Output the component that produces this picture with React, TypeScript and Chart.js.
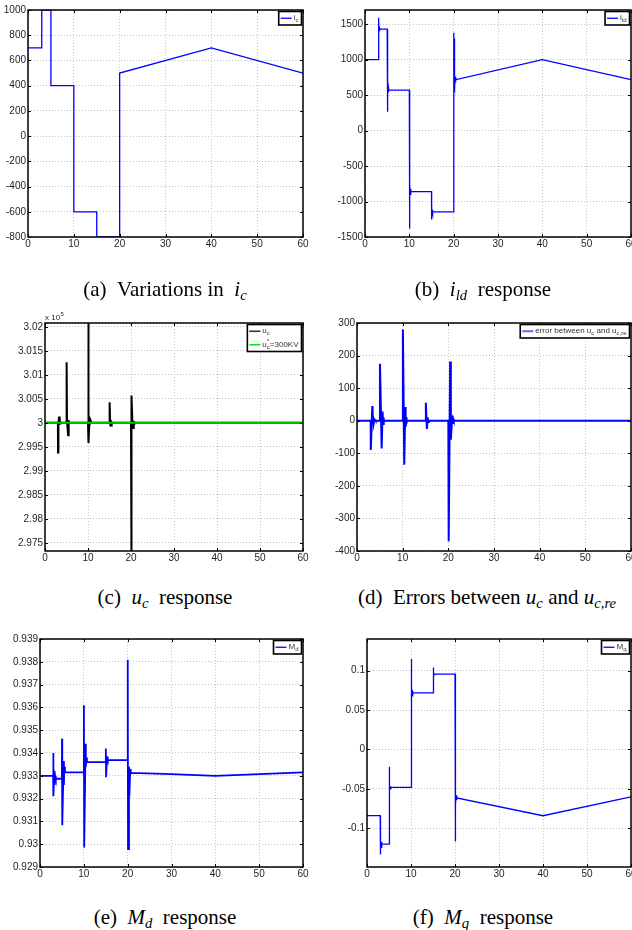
import React, { useEffect, useRef } from "react";
import { Chart, registerables } from "chart.js";

Chart.register(...registerables);

// ---------------- data ----------------
const X_TICKS = [0, 10, 20, 30, 40, 50, 60];

// (a) i_c
const IC_T = [0, 3, 3, 5, 5, 10, 10, 15, 15, 20, 20, 40, 60];
const IC_V = [700, 700, 1000, 1000, 400, 400, -600, -600, -800, -800, 500, 700, 500];
const A_Y_TICKS = [-800, -600, -400, -200, 0, 200, 400, 600, 800, 1000];

// (b) i_ld
const ILD_T = [
  0, 3, 3.02, 3.08, 3.15, 3.22, 3.3, 3.4,
  5, 5.02, 5.1, 5.18, 5.26, 5.34, 5.45,
  10, 10.03, 10.12, 10.2, 10.28, 10.36, 10.45,
  15, 15.03, 15.12, 15.2, 15.3, 15.4,
  20, 20.03, 20.1, 20.16, 20.24, 20.32, 20.4, 20.5, 20.6,
  40, 60,
];
const ILD_V = [
  1000, 1000, 1590, 1400, 1480, 1410, 1445, 1430,
  1430, 265, 630, 540, 610, 560, 575,
  570, -1380, -760, -900, -820, -875, -860,
  -860, -1255, -1120, -1160, -1135, -1145,
  -1145, 1380, 600, 1300, 580, 760, 680, 740, 720,
  1000, 718,
];
const B_Y_TICKS = [-1500, -1000, -500, 0, 500, 1000, 1500];

// (c) u_c (x 10^5)
const UC_T = [
  0, 3, 3.03, 3.12, 3.3, 3.38, 3.46, 3.55, 3.7,
  5, 5.03, 5.12, 5.38, 5.46, 5.55, 5.7,
  10, 10.03, 10.2, 10.35, 10.45, 10.55, 10.8,
  15, 15.03, 15.15, 15.25, 15.35, 15.5,
  20, 20.03, 20.2, 20.35, 20.55, 20.65, 20.75, 21, 60,
];
const UC_V = [
  3, 3, 2.9938, 3.0, 3.0013, 2.9996, 3.0005, 2.9999, 3.0,
  3, 3.0126, 3.0003, 2.9974, 3.0006, 2.9998, 3.0,
  3, 3.024, 2.9958, 3.0009, 2.9996, 3.0006, 3.0,
  3, 3.0043, 3.0, 2.9992, 3.0003, 3.0,
  3, 2.97, 3.0057, 2.9995, 2.9989, 3.0004, 2.9997, 3.0, 3.0,
];
const UCREF_T = [0, 60];
const UCREF_V = [3, 3];
const C_Y_TICKS = [2.975, 2.98, 2.985, 2.99, 2.995, 3, 3.005, 3.01, 3.015, 3.02];

// (d) error between u_c and u_c,re
const ERR_T = [
  0, 3, 3.02, 3.35, 3.42, 3.55, 3.7, 3.85, 4.0, 4.1,
  5, 5.03, 5.4, 5.6, 5.7, 5.8, 5.9, 6.0,
  10, 10.05, 10.35, 10.57, 10.65, 10.75, 10.85, 11.0,
  15, 15.08, 15.3, 15.5, 15.6, 15.75,
  20, 20.08, 20.4, 20.55, 20.85, 20.95, 21.05, 21.2, 60,
];
const ERR_V = [
  0, 0, -90, 45, -12, 8, -6, 4, 2, 0,
  0, 175, -85, 28, -10, 10, -4, 0,
  0, 280, -135, 42, -18, 10, -6, 0,
  0, 55, -25, 10, -4, 0,
  0, -370, 182, -58, 15, -10, 6, 0, 0,
];
const D_Y_TICKS = [-400, -300, -200, -100, 0, 100, 200, 300];

// (e) M_d
const MD_T = [
  0, 3, 3.02, 3.08, 3.3, 3.36, 3.45, 3.6,
  5, 5.02, 5.08, 5.4, 5.46, 5.55, 5.7,
  10, 10.02, 10.08, 10.4, 10.46, 10.55, 10.7,
  15, 15.02, 15.08, 15.3, 15.4, 15.5,
  20, 20.02, 20.08, 20.3, 20.38, 20.6, 20.7, 20.85,
  30, 40, 50, 60,
];
const MD_V = [
  0.933, 0.933, 0.934, 0.9321, 0.9332, 0.9326, 0.933, 0.93287,
  0.93287, 0.93462, 0.93083, 0.93365, 0.9326, 0.9334, 0.93315,
  0.93315, 0.93609, 0.92985, 0.9344, 0.9334, 0.9338, 0.9336,
  0.9336, 0.9342, 0.93294, 0.93385, 0.9335, 0.93369,
  0.9337, 0.93809, 0.92979, 0.9334, 0.9321, 0.9333, 0.9331, 0.93313,
  0.93307, 0.933, 0.93307, 0.93315,
];
const E_Y_TICKS = [0.929, 0.93, 0.931, 0.932, 0.933, 0.934, 0.935, 0.936, 0.937, 0.938, 0.939];

// (f) M_q
const MQ_T = [
  0, 3, 3.03, 3.1, 3.2, 3.3, 3.4, 3.5,
  5, 5.03, 5.1, 5.18, 5.26, 5.34, 5.45,
  10, 10.03, 10.1, 10.2, 10.3, 10.4, 10.5,
  15, 15.03, 15.1, 15.2, 15.3, 15.4,
  20, 20.03, 20.1, 20.18, 20.26, 20.34, 20.45,
  40, 60,
];
const MQ_V = [
  -0.084, -0.084, -0.133, -0.118, -0.124, -0.117, -0.121, -0.12,
  -0.12, -0.022, -0.052, -0.045, -0.05, -0.047, -0.048,
  -0.048, 0.1146, 0.063, 0.075, 0.068, 0.073, 0.0718,
  0.0718, 0.104, 0.093, 0.097, 0.095, 0.0955,
  0.0955, -0.1168, -0.05, -0.07, -0.058, -0.064, -0.0615,
  -0.084, -0.06,
];
const F_Y_TICKS = [-0.1, -0.05, 0, 0.05, 0.1];

// ---------------- rendering helpers ----------------
const SANS = '"Liberation Sans", Arial, Helvetica, sans-serif';
const SERIF = '"Liberation Serif", "Times New Roman", Times, serif';
const BLUE = "#0000ff";

type Part = { t: string; k?: "sub" | "sup" | "subsup"; s?: string };
type LegendItem = { color: string; width: number; parts: Part[] };
type Series = { t: number[]; v: number[]; color: string; width: number };
type PanelCfg = {
  x: number; y: number; w: number; h: number;
  l: number; r: number; t: number; b: number;
  yMin: number; yMax: number; yTicks: number[];
  series: Series[];
  legend: LegendItem[];
  exponent?: boolean;
};

function partsWidth(ctx: CanvasRenderingContext2D, parts: Part[]) {
  let w = 0;
  for (const p of parts) {
    if (!p.k) {
      ctx.font = `8px ${SANS}`;
      w += ctx.measureText(p.t).width;
    } else if (p.k === "subsup") {
      ctx.font = `6px ${SANS}`;
      w += Math.max(ctx.measureText(p.t).width, ctx.measureText(p.s || "").width);
    } else {
      ctx.font = `6px ${SANS}`;
      w += ctx.measureText(p.t).width;
    }
  }
  return w;
}

function drawParts(ctx: CanvasRenderingContext2D, parts: Part[], x: number, y: number) {
  let cx = x;
  ctx.textBaseline = "alphabetic";
  ctx.textAlign = "left";
  for (const p of parts) {
    if (!p.k) {
      ctx.font = `8px ${SANS}`;
      ctx.fillText(p.t, cx, y);
      cx += ctx.measureText(p.t).width;
    } else if (p.k === "subsup") {
      ctx.font = `6px ${SANS}`;
      ctx.fillText(p.s || "", cx, y - 4);
      ctx.fillText(p.t, cx, y + 2);
      cx += Math.max(ctx.measureText(p.t).width, ctx.measureText(p.s || "").width);
    } else {
      ctx.font = `6px ${SANS}`;
      ctx.fillText(p.t, cx, p.k === "sub" ? y + 2 : y - 4);
      cx += ctx.measureText(p.t).width;
    }
  }
}

function makeFramePlugin(cfg: PanelCfg) {
  return {
    id: "frameLegend",
    afterDraw(chart: any) {
      const ctx: CanvasRenderingContext2D = chart.ctx;
      const a = chart.chartArea;
      const xs = chart.scales.x;
      const ys = chart.scales.y;
      ctx.save();
      // tick marks inside the box
      ctx.strokeStyle = "#000";
      ctx.lineWidth = 1;
      ctx.beginPath();
      for (const tk of xs.ticks) {
        const p = Math.round(xs.getPixelForValue(tk.value)) + 0.5;
        ctx.moveTo(p, a.bottom);
        ctx.lineTo(p, a.bottom - 3);
        ctx.moveTo(p, a.top);
        ctx.lineTo(p, a.top + 3);
      }
      for (const tk of ys.ticks) {
        const p = Math.round(ys.getPixelForValue(tk.value)) + 0.5;
        ctx.moveTo(a.left, p);
        ctx.lineTo(a.left + 3, p);
        ctx.moveTo(a.right, p);
        ctx.lineTo(a.right - 3, p);
      }
      ctx.stroke();
      // frame
      ctx.lineWidth = 1.5;
      ctx.strokeRect(a.left, a.top, a.right - a.left, a.bottom - a.top);

      // legend
      const items = cfg.legend;
      if (items.length) {
        const rowH = 13.5;
        let tw = 0;
        for (const it of items) tw = Math.max(tw, partsWidth(ctx, it.parts));
        const bw = 2 + 11 + 2 + tw + 3;
        const bh = rowH * items.length;
        const bx = a.right - 1.5 - bw;
        const by = a.top + 1.5;
        ctx.fillStyle = "#fff";
        ctx.fillRect(bx, by, bw, bh);
        ctx.lineWidth = 1.6;
        ctx.strokeStyle = "#000";
        ctx.strokeRect(bx, by, bw, bh);
        items.forEach((it, i) => {
          const cy = by + rowH * i + rowH / 2;
          ctx.strokeStyle = it.color;
          ctx.lineWidth = it.width;
          ctx.beginPath();
          ctx.moveTo(bx + 2, cy);
          ctx.lineTo(bx + 13, cy);
          ctx.stroke();
          ctx.fillStyle = "#333";
          drawParts(ctx, it.parts, bx + 15, cy + 2);
        });
      }

      if (cfg.exponent) {
        ctx.fillStyle = "#222";
        ctx.textAlign = "left";
        ctx.textBaseline = "alphabetic";
        ctx.font = `8px ${SANS}`;
        const base = "x 10";
        ctx.fillText(base, a.left, a.top - 3);
        const w = ctx.measureText(base).width;
        ctx.font = `6px ${SANS}`;
        ctx.fillText("5", a.left + w + 0.5, a.top - 7);
      }
      ctx.restore();
    },
  };
}

const fmt = (v: any) => String(+Number(v).toFixed(6));

function Panel({ cfg }: { cfg: PanelCfg }) {
  const ref = useRef<HTMLCanvasElement>(null);
  useEffect(() => {
    const canvas = ref.current;
    if (!canvas) return;
    const tickFont = { family: SANS, size: 10 };
    const gridCommon = { color: "#c4c4c4", lineWidth: 1, drawTicks: false, borderDash: [1, 2] };
    const chart = new Chart(canvas, {
      type: "line",
      data: {
        datasets: cfg.series.map((s) => ({
          data: s.t.map((x, i) => ({ x, y: s.v[i] })),
          borderColor: s.color,
          backgroundColor: s.color,
          borderWidth: s.width,
          pointRadius: 0,
          tension: 0,
          fill: false,
        })),
      },
      options: {
        animation: false,
        responsive: false,
        maintainAspectRatio: false,
        events: [],
        layout: { padding: { left: 0, right: cfg.w - cfg.r, top: cfg.t, bottom: 0 } },
        plugins: { legend: { display: false }, tooltip: { enabled: false } },
        scales: {
          x: {
            type: "linear",
            min: 0,
            max: 60,
            afterBuildTicks: (s: any) => {
              s.ticks = X_TICKS.map((v) => ({ value: v }));
            },
            afterFit: (s: any) => {
              s.height = cfg.h - cfg.b;
            },
            ticks: { font: tickFont, color: "#1e1e1e", padding: 1, maxRotation: 0, autoSkip: false, callback: fmt },
            grid: gridCommon,
            border: { display: false, dash: [1, 2] },
          },
          y: {
            type: "linear",
            min: cfg.yMin,
            max: cfg.yMax,
            afterBuildTicks: (s: any) => {
              s.ticks = cfg.yTicks.map((v) => ({ value: v }));
            },
            afterFit: (s: any) => {
              s.width = cfg.l;
            },
            ticks: { font: tickFont, color: "#1e1e1e", padding: 2, autoSkip: false, callback: fmt },
            grid: gridCommon,
            border: { display: false, dash: [1, 2] },
          },
        },
      } as any,
      plugins: [makeFramePlugin(cfg) as any],
    });
    return () => chart.destroy();
  }, []);
  return (
    <canvas
      ref={ref}
      width={cfg.w}
      height={cfg.h}
      style={{ position: "absolute", left: cfg.x, top: cfg.y, width: cfg.w, height: cfg.h }}
    />
  );
}

const PANELS: PanelCfg[] = [
  {
    x: 0, y: 0, w: 316, h: 262, l: 28, r: 303, t: 10, b: 237,
    yMin: -800, yMax: 1000, yTicks: A_Y_TICKS,
    series: [{ t: IC_T, v: IC_V, color: BLUE, width: 1.3 }],
    legend: [{ color: BLUE, width: 1.3, parts: [{ t: "i" }, { t: "c", k: "sub" }] }],
  },
  {
    x: 316, y: 0, w: 332, h: 262, l: 49, r: 315, t: 10, b: 237,
    yMin: -1500, yMax: 1700, yTicks: B_Y_TICKS,
    series: [{ t: ILD_T, v: ILD_V, color: BLUE, width: 1.3 }],
    legend: [{ color: BLUE, width: 1.3, parts: [{ t: "i" }, { t: "ld", k: "sub" }] }],
  },
  {
    x: 0, y: 300, w: 316, h: 270, l: 45, r: 303, t: 23, b: 251,
    yMin: 2.9733, yMax: 3.0208, yTicks: C_Y_TICKS,
    series: [
      { t: UCREF_T, v: UCREF_V, color: "#00cc00", width: 2 },
      { t: UC_T, v: UC_V, color: "#000000", width: 2 },
    ],
    legend: [
      { color: "#333333", width: 1.6, parts: [{ t: "u" }, { t: "c", k: "sub" }] },
      { color: "#00ee00", width: 1.6, parts: [{ t: "u" }, { t: "c", k: "subsup", s: "*" }, { t: "=300KV" }] },
    ],
    exponent: true,
  },
  {
    x: 316, y: 300, w: 332, h: 270, l: 41, r: 315, t: 23, b: 251,
    yMin: -400, yMax: 300, yTicks: D_Y_TICKS,
    series: [{ t: ERR_T, v: ERR_V, color: BLUE, width: 2 }],
    legend: [
      {
        color: "#6666ff",
        width: 2,
        parts: [{ t: "error between u" }, { t: "c", k: "sub" }, { t: " and u" }, { t: "c,re", k: "sub" }],
      },
    ],
  },
  {
    x: 0, y: 620, w: 316, h: 270, l: 40, r: 303, t: 19, b: 247,
    yMin: 0.929, yMax: 0.939, yTicks: E_Y_TICKS,
    series: [{ t: MD_T, v: MD_V, color: BLUE, width: 1.8 }],
    legend: [{ color: BLUE, width: 1.3, parts: [{ t: "M" }, { t: "d", k: "sub" }] }],
  },
  {
    x: 316, y: 620, w: 332, h: 270, l: 51, r: 315, t: 19, b: 247,
    yMin: -0.149, yMax: 0.14, yTicks: F_Y_TICKS,
    series: [{ t: MQ_T, v: MQ_V, color: BLUE, width: 1.3 }],
    legend: [{ color: BLUE, width: 1.3, parts: [{ t: "M" }, { t: "q", k: "sub" }] }],
  },
];

const subStyle: React.CSSProperties = { fontSize: "0.7em", verticalAlign: "-0.3em", lineHeight: 0, fontStyle: "italic" };

function Caption({ cx, cy, children }: { cx: number; cy: number; children: React.ReactNode }) {
  return (
    <div
      style={{
        position: "absolute",
        left: cx - 180,
        top: cy - 13,
        width: 360,
        height: 26,
        lineHeight: "26px",
        textAlign: "center",
        fontFamily: SERIF,
        fontSize: 21,
        color: "#000",
        whiteSpace: "nowrap",
      }}
    >
      {children}
    </div>
  );
}

const M = ({ v, s }: { v: string; s: string }) => (
  <span>
    <i>{v}</i>
    <sub style={subStyle}>{s}</sub>
  </span>
);

export default function App() {
  return (
    <div
      style={{
        position: "fixed",
        left: 0,
        top: 0,
        width: 632,
        height: 930,
        overflow: "hidden",
        background: "#fff",
      }}
    >
      {PANELS.map((p, i) => (
        <Panel key={i} cfg={p} />
      ))}
      <Caption cx={165} cy={289}>
        (a)&ensp;Variations in&ensp;<M v="i" s="c" />
      </Caption>
      <Caption cx={483} cy={289}>
        (b)&ensp;<M v="i" s="ld" />&ensp;response
      </Caption>
      <Caption cx={165} cy={597}>
        (c)&ensp;<M v="u" s="c" />&ensp;response
      </Caption>
      <Caption cx={487} cy={597}>
        (d)&ensp;Errors between <M v="u" s="c" /> and <M v="u" s="c,re" />
      </Caption>
      <Caption cx={165} cy={917}>
        (e)&ensp;<M v="M" s="d" />&ensp;response
      </Caption>
      <Caption cx={483} cy={917}>
        (f)&ensp;<M v="M" s="q" />&ensp;response
      </Caption>
    </div>
  );
}
